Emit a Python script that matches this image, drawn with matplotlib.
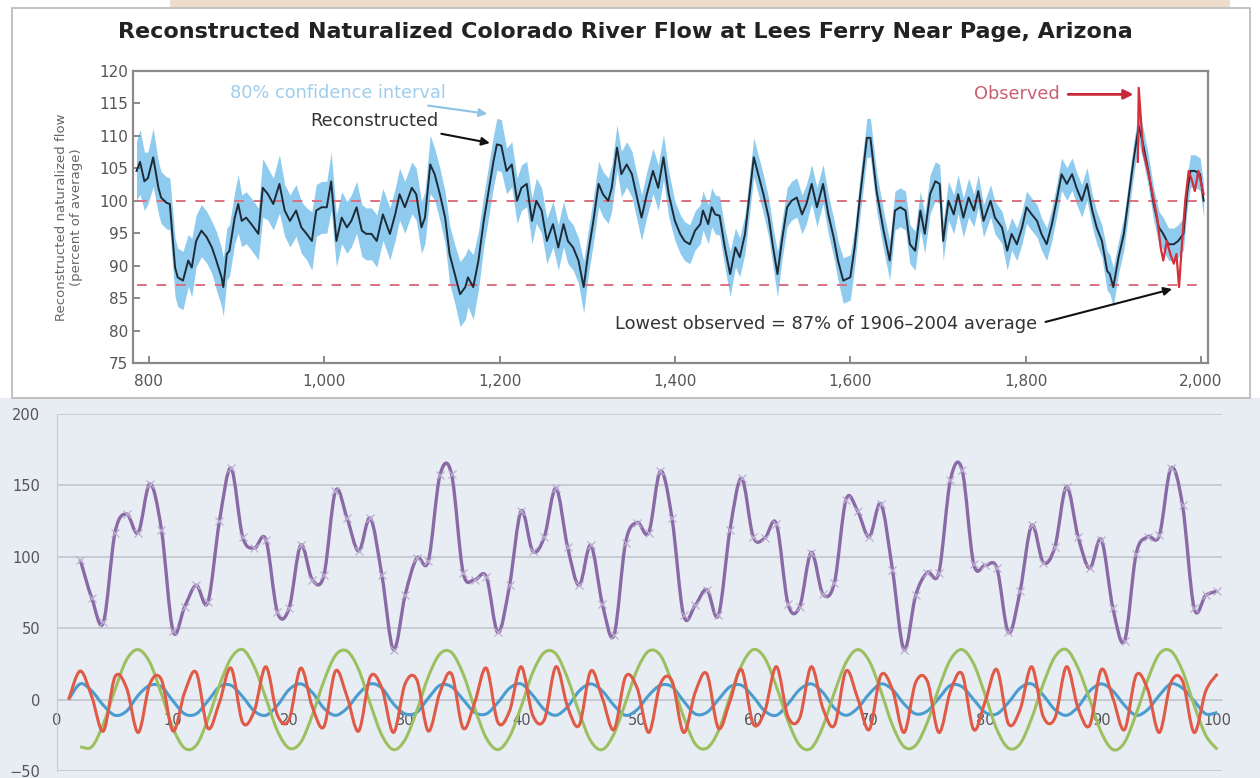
import numpy as np
import matplotlib
matplotlib.use("Agg")
import matplotlib.pyplot as plt
from matplotlib.path import Path
from matplotlib.patches import PathPatch, Rectangle

# ---- top chart: reconstructed flow (percent of average) ----
recon_year = [
    786, 790, 795, 799, 805, 811, 814, 820, 824, 830,
    833, 839, 845, 849, 854, 860, 866, 872, 877, 883,
    885, 889, 892, 898, 902, 906, 911, 917, 925, 930,
    936, 942, 949, 955, 961, 968, 974, 980, 986, 991,
    997, 1003, 1008, 1014, 1020, 1026, 1031, 1037, 1043, 1048,
    1054, 1060, 1067, 1075, 1081, 1086, 1092, 1100, 1105, 1111,
    1115, 1121, 1126, 1132, 1138, 1143, 1149, 1155, 1161, 1164,
    1170, 1176, 1182, 1187, 1193, 1197, 1202, 1208, 1214, 1220,
    1225, 1231, 1237, 1242, 1248, 1254, 1261, 1267, 1273, 1278,
    1284, 1290, 1296, 1301, 1307, 1313, 1318, 1324, 1328, 1334,
    1339, 1345, 1351, 1356, 1362, 1368, 1375, 1381, 1387, 1393,
    1400, 1406, 1411, 1417, 1423, 1429, 1432, 1438, 1442, 1446,
    1451, 1457, 1463, 1469, 1474, 1480, 1486, 1490, 1495, 1501,
    1507, 1512, 1517, 1522, 1528, 1533, 1539, 1545, 1550, 1556,
    1562, 1569, 1575, 1581, 1586, 1592, 1600, 1605, 1611, 1619,
    1623, 1630, 1638, 1645, 1651, 1657, 1663, 1668, 1674, 1680,
    1685, 1691, 1697, 1702, 1706, 1712, 1718, 1723, 1729, 1735,
    1741, 1746, 1752, 1760, 1765, 1773, 1779, 1784, 1790, 1796,
    1801, 1807, 1813, 1818, 1824, 1830, 1836, 1841, 1847, 1853,
    1858, 1864, 1870, 1876, 1881, 1887, 1893, 1896, 1900, 1906,
    1912, 1917, 1923, 1929, 1934, 1940, 1946, 1952, 1957, 1963,
    1969, 1974, 1980, 1984, 1988, 1993, 1999, 2003,
]
recon_flow = [
    104.6, 106.0, 103.0, 103.5, 106.7, 102.0, 100.5, 99.7, 99.5, 89.7,
    88.2, 87.7, 90.8, 89.7, 93.8, 95.4, 94.4, 92.8, 90.8, 88.2,
    86.7, 91.8, 92.3, 97.4, 99.5, 96.9, 97.4, 96.4, 94.9, 102.0,
    101.0, 99.5, 102.6, 98.5, 96.9, 98.5, 95.9, 94.9, 93.8, 98.5,
    99.0, 99.0, 103.0, 93.8, 97.4, 95.9, 96.9, 99.0, 95.4, 94.9,
    94.9, 93.8, 97.9, 94.9, 97.9, 101.0, 99.0, 102.0, 101.0, 95.9,
    97.4, 105.6, 104.1, 101.0, 97.4, 91.8, 88.7, 85.6, 86.7, 88.2,
    86.7, 90.8, 96.9, 101.0, 106.0, 108.7, 108.5, 104.6, 105.6, 100.0,
    102.0, 102.6, 96.9, 100.0, 98.5, 93.8, 96.4, 92.8, 96.4, 93.8,
    92.8, 90.8, 86.7, 91.8, 96.9, 102.6, 101.0, 100.0, 102.0, 108.2,
    104.1, 105.6, 104.1, 101.0, 97.4, 101.0, 104.6, 102.0, 106.7, 101.0,
    96.9, 94.9, 93.8, 93.3, 95.4, 96.4, 98.5, 96.4, 99.0, 97.9,
    97.7, 92.8, 88.7, 92.8, 91.3, 94.9, 102.0, 106.7, 104.1, 101.0,
    97.4, 92.8, 88.7, 93.8, 99.0, 100.0, 100.5, 97.9, 99.5, 102.6,
    99.0, 102.6, 97.9, 94.4, 90.8, 87.7, 88.2, 92.8, 100.5, 109.7,
    109.7, 101.5, 95.4, 90.8, 98.5, 99.0, 98.5, 93.3, 92.3, 98.5,
    94.9, 101.0, 103.0, 102.6, 93.8, 100.0, 97.9, 101.0, 97.4, 100.5,
    98.5, 101.5, 96.9, 100.0, 97.4, 95.9, 92.3, 94.9, 93.3, 95.9,
    99.0, 97.9, 96.9, 94.9, 93.3, 96.4, 100.5, 104.1, 102.6, 104.1,
    102.0, 100.0, 102.6, 98.5, 95.9, 93.8, 89.2, 88.7, 86.7, 91.3,
    94.9, 100.0, 106.2, 111.5, 108.7, 104.6, 99.5, 95.9, 94.9, 93.3,
    93.3, 93.8, 94.9, 101.0, 104.6, 104.6, 104.1, 100.0,
]
# half width of the 80% confidence band
ci_half = [
    4.5, 5.0, 4.5, 4.0, 4.5, 4.0, 4.0, 4.0, 4.0, 4.5,
    4.5, 4.5, 4.0, 4.5, 4.0, 4.0, 4.0, 4.0, 4.5, 4.5,
    4.5, 4.0, 4.0, 4.0, 4.5, 4.0, 4.0, 4.0, 4.0, 4.5,
    4.0, 4.0, 4.5, 4.0, 4.0, 4.0, 4.0, 4.0, 4.5, 4.0,
    4.0, 4.0, 4.5, 4.0, 4.0, 4.0, 4.0, 4.0, 4.0, 4.0,
    4.0, 4.0, 4.0, 4.0, 4.0, 4.0, 4.0, 4.0, 4.0, 4.0,
    4.0, 4.5, 4.0, 4.0, 4.0, 4.5, 4.5, 5.0, 5.0, 4.5,
    5.0, 4.5, 4.0, 4.0, 4.0, 4.0, 4.0, 3.5, 3.5, 3.5,
    3.5, 3.5, 3.5, 3.5, 3.5, 3.5, 3.5, 3.5, 3.5, 3.5,
    3.5, 3.5, 4.0, 3.5, 3.5, 3.5, 3.5, 3.5, 3.5, 3.5,
    3.5, 3.5, 3.5, 3.5, 3.5, 3.5, 3.5, 3.5, 3.5, 3.5,
    3.0, 3.0, 3.0, 3.0, 3.0, 3.0, 3.0, 3.0, 3.0, 3.0,
    3.0, 3.0, 3.5, 3.0, 3.0, 3.0, 3.0, 3.0, 3.0, 3.0,
    3.0, 3.0, 3.5, 3.0, 3.0, 3.0, 3.0, 3.0, 3.0, 3.0,
    3.0, 3.0, 3.0, 3.0, 3.0, 3.5, 3.5, 3.0, 3.0, 3.0,
    3.0, 3.0, 3.0, 3.0, 3.0, 3.0, 3.0, 3.0, 3.0, 3.0,
    3.0, 3.0, 3.0, 3.0, 3.0, 3.0, 3.0, 3.0, 3.0, 3.0,
    2.5, 2.5, 2.5, 2.5, 2.5, 2.5, 3.0, 2.5, 2.5, 2.5,
    2.5, 2.5, 2.5, 2.5, 2.5, 2.5, 2.5, 2.5, 2.5, 2.5,
    2.5, 2.5, 2.5, 2.5, 2.5, 2.5, 3.0, 3.0, 3.0, 2.5,
    2.5, 2.5, 2.5, 2.5, 2.5, 2.5, 2.5, 2.5, 2.5, 2.5,
    2.5, 2.5, 2.5, 2.5, 2.5, 2.5, 2.5, 2.5,
]
obs_year = [1928, 1929, 1934, 1942, 1950, 1954, 1957, 1961, 1965, 1969,
            1972, 1975, 1978, 1982, 1986, 1990, 1993, 1997, 2003]
obs_flow = [106.0, 117.4, 107.7, 103.0, 97.4, 92.8, 90.8, 93.8, 91.8, 90.3,
            91.8, 86.7, 92.8, 100.0, 104.6, 103.0, 101.5, 104.6, 101.0]
mean_level = 100
lowest_level = 87

# ---- bottom chart ----
blue_x = list(range(1, 101))
blue = [
    0, 11, 6, -4, -11, -8, 3, 10, 9, -1, -10, -10, -1, 9, 10, 2, -8, -11, -4, 7,
    11, 5, -6, -11, -6, 4, 11, 8, -3, -10, -9, 1, 10, 9, 0, -9, -10, -2, 8, 11,
    3, -7, -11, -5, 6, 11, 6, -4, -11, -7, 3, 10, 9, -1, -10, -9, 0, 9, 10, 2,
    -8, -11, -3, 7, 11, 5, -6, -11, -6, 4, 11, 7, -3, -10, -8, 1, 10, 9, 0, -9,
    -10, -2, 8, 11, 3, -7, -11, -5, 6, 11, 6, -4, -11, -7, 3, 11, 8, -1, -10, -9,
]
red_x = list(range(1, 101))
red = [
    0, 20, 2, -22, 16, 8, -23, 11, 14, -22, 5, 19, -20, -2, 22, -16, -8, 23, -11, -14,
    22, -5, -19, 20, 2, -22, 16, 8, -23, 11, 14, -22, 5, 18, -20, -2, 22, -16, -8, 23,
    -11, -14, 23, -5, -18, 20, 1, -21, 16, 8, -23, 11, 13, -23, 5, 18, -20, -1, 21, -17,
    -8, 23, -12, -13, 23, -6, -18, 20, 1, -21, 17, 7, -23, 12, 13, -23, 6, 18, -21, -1,
    21, -17, -7, 23, -12, -13, 23, -6, -18, 21, 1, -21, 17, 7, -23, 12, 13, -23, 6, 18,
]
green_x = list(range(2, 101))
green = [
    -33, -33, -17, 7, 28, 35, 26, 4, -20, -34, -32, -14, 10, 29, 35, 23, 1, -22, -34,
    -30, -11, 13, 31, 34, 21, -3, -25, -35, -28, -8, 16, 32, 33, 18, -6, -27, -35, -26,
    -5, 19, 33, 32, 15, -9, -29, -35, -24, -2, 21, 34, 31, 12, -12, -31, -34, -22, 2,
    24, 35, 29, 9, -15, -32, -34, -19, 5, 26, 35, 27, 6, -18, -33, -32, -16, 8, 28, 35,
    25, 3, -21, -34, -31, -13, 11, 30, 35, 22, 0, -23, -35, -30, -10, 14, 32, 34, 20,
    -4, -25, -35,
]
purple_x = list(range(2, 101))
purple = [
    98, 71, 54, 117, 130, 117, 151, 119, 48, 65,
    80, 68, 125, 162, 114, 106, 112, 61, 64, 108,
    84, 87, 146, 127, 104, 127, 87, 35, 73, 99,
    97, 157, 158, 89, 84, 86, 47, 80, 132, 104,
    114, 148, 107, 80, 108, 67, 45, 110, 124, 117,
    160, 127, 59, 66, 77, 59, 119, 155, 114, 113,
    123, 67, 65, 103, 74, 82, 140, 132, 114, 137,
    91, 35, 73, 89, 89, 154, 161, 95, 94, 92,
    47, 76, 122, 96, 107, 149, 114, 92, 112, 64,
    41, 102, 114, 115, 162, 136, 64, 73, 76,
]


def smooth_path(x, y):
    # Excel-style smoothed line: cubic Bezier through each point
    p = np.column_stack([x, y]).astype(float)
    verts = [p[0]]
    codes = [Path.MOVETO]
    n = len(p)
    for i in range(n - 1):
        p0 = p[i - 1] if i > 0 else p[i]
        p3 = p[i + 2] if i + 2 < n else p[i + 1]
        c1 = p[i] + (p[i + 1] - p0) / 6.0
        c2 = p[i + 1] - (p3 - p[i]) / 6.0
        verts += [c1, c2, p[i + 1]]
        codes += [Path.CURVE4] * 3
    return Path(verts, codes)


W, H = 1260, 778
fig = plt.figure(figsize=(W / 100, H / 100), dpi=100)
fig.patch.set_facecolor("white")

# screenshot frames
fig.patches.append(Rectangle((0, 0), 1, 1 - 398 / H, transform=fig.transFigure,
                             facecolor="#e8edf4", edgecolor="none", zorder=-5))
fig.patches.append(Rectangle((170 / W, 1 - 7 / H), 1060 / W, 7 / H, transform=fig.transFigure,
                             facecolor="#ecdccb", edgecolor="none", zorder=-4))
fig.patches.append(Rectangle((12 / W, 1 - 398 / H), (1250 - 12) / W, (398 - 8) / H,
                             transform=fig.transFigure, facecolor="none",
                             edgecolor="#b8b8b8", lw=1.2, zorder=-3))

# ================= top chart =================
ax1 = fig.add_axes([133 / W, 1 - 363 / H, (1208 - 133) / W, (363 - 71) / H])
yr = np.array(recon_year)
fl = np.array(recon_flow)
ch = np.array(ci_half)
ax1.fill_between(yr, fl - ch, fl + ch, color="#8ecbee", lw=0, zorder=1)
ax1.plot(yr, fl, color="#1e2a36", lw=1.4, zorder=3)
ax1.plot(obs_year, obs_flow, color="#d4303c", lw=1.6, zorder=4)
ax1.hlines([mean_level, lowest_level], 786, 2003, colors="#d9707f",
           linestyles=(0, (5, 5)), lw=1.4, zorder=2)

ax1.set_xlim(782, 2008)
ax1.set_ylim(75, 120)
ax1.set_xticks([800, 1000, 1200, 1400, 1600, 1800, 2000])
ax1.set_xticklabels(["800", "1,000", "1,200", "1,400", "1,600", "1,800", "2,000"])
ax1.set_yticks(range(75, 121, 5))
ax1.tick_params(direction="in", length=5, width=1.2, colors="#777777",
                labelcolor="#555555", labelsize=11)
ax1.tick_params(axis="x", pad=8)
for s in ax1.spines.values():
    s.set_color("#8a8a8a")
    s.set_linewidth(1.6)
ax1.set_ylabel("Reconstructed naturalized flow\n(percent of average)",
               fontsize=9.5, color="#666666", labelpad=12)

fig.text(625 / W, 1 - 32 / H,
         "Reconstructed Naturalized Colorado River Flow at Lees Ferry Near Page, Arizona",
         ha="center", va="center", fontsize=16, fontweight="bold", color="#222222")

ax1.annotate("80% confidence interval", xy=(1186, 113.4), xytext=(1139, 116.6),
             ha="right", va="center", fontsize=12.8, color="#9fcdec",
             arrowprops=dict(arrowstyle="-|>", color="#8cc3e6", lw=1.5,
                             shrinkA=4, shrinkB=0, mutation_scale=12))
ax1.annotate("Reconstructed", xy=(1189, 108.9), xytext=(1130, 112.3),
             ha="right", va="center", fontsize=12.8, color="#333333",
             arrowprops=dict(arrowstyle="-|>", color="#111111", lw=1.5,
                             shrinkA=4, shrinkB=0, mutation_scale=12))
ax1.annotate("Observed", xy=(1923, 116.4), xytext=(1839, 116.4),
             ha="right", va="center", fontsize=12.8, color="#c86070",
             arrowprops=dict(arrowstyle="-|>", color="#c8283a", lw=2,
                             shrinkA=4, shrinkB=0, mutation_scale=14))
ax1.annotate("Lowest observed = 87% of 1906\u20132004 average", xy=(1967, 86.4),
             xytext=(1332, 81.0), ha="left", va="center", fontsize=12.8, color="#333333",
             arrowprops=dict(arrowstyle="-|>", color="#111111", lw=1.5,
                             shrinkA=4, shrinkB=0, mutation_scale=12,
                             relpos=(1.0, 0.5)))

# ================= bottom chart =================
ax2 = fig.add_axes([57 / W, 1 - 771 / H, (1222 - 57) / W, (771 - 414) / H])
ax2.set_facecolor("#e8edf4")
ax2.set_xlim(0, 100.4)
ax2.set_ylim(-50, 200)
ax2.set_axisbelow(True)
ax2.set_yticks([-50, 0, 50, 100, 150, 200])
ax2.set_xticks(range(0, 101, 10))
ax2.grid(axis="y", color="#c5cad0", lw=1.3)
for k in ("top", "right"):
    ax2.spines[k].set_visible(False)
ax2.spines["bottom"].set_position(("data", 0))
ax2.spines["bottom"].set_color("#c5cad0")
ax2.spines["left"].set_color("#c5cad0")
ax2.tick_params(length=0, labelsize=10.5, labelcolor="#555555")
ax2.tick_params(axis="y", pad=12)
ax2.tick_params(axis="x", pad=10)

ax2.add_patch(PathPatch(smooth_path(blue_x, blue), fill=False, ec="#4a9ccf", lw=2.2, zorder=3))
ax2.add_patch(PathPatch(smooth_path(green_x, green), fill=False, ec="#9cc060", lw=2.2, zorder=3))
ax2.add_patch(PathPatch(smooth_path(red_x, red), fill=False, ec="#e05a48", lw=2.2, zorder=3))
ax2.add_patch(PathPatch(smooth_path(purple_x, purple), fill=False, ec="#8a6aa6", lw=2.4, zorder=4))
ax2.plot(purple_x, purple, ls="none", marker="x", ms=6, mew=0.9, color="#bcaed0", zorder=5)

fig.savefig("out.png", dpi=100, facecolor=fig.get_facecolor())
